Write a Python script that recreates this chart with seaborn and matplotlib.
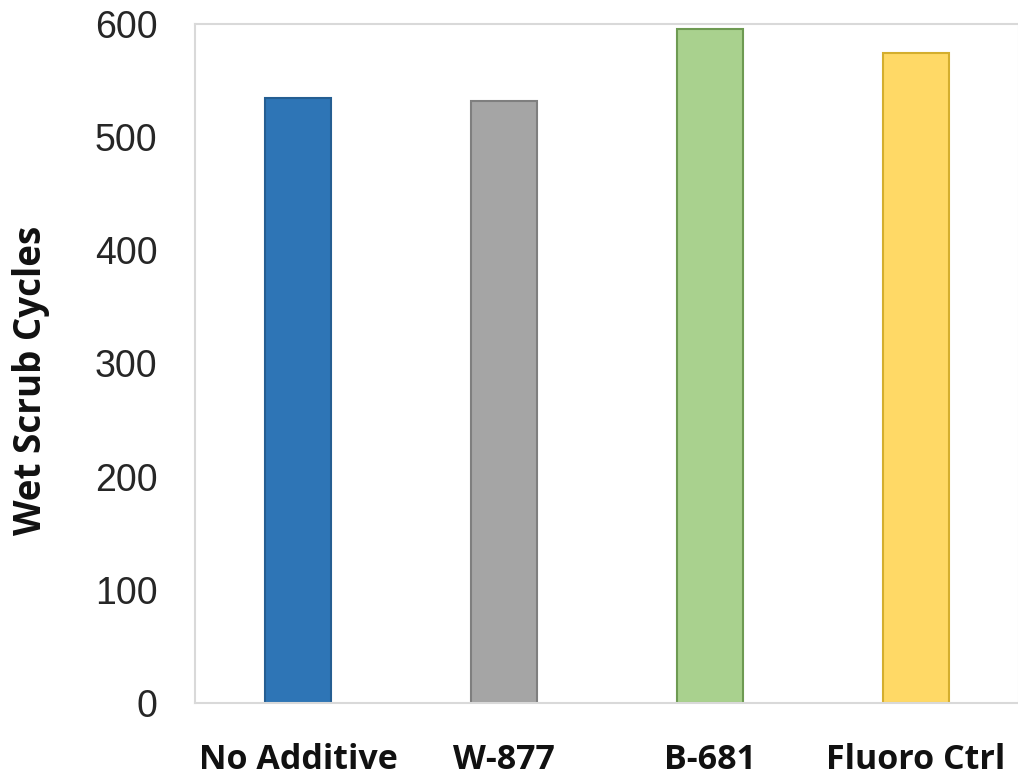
import matplotlib
matplotlib.use("Agg")
import matplotlib.pyplot as plt
import seaborn as sns
import pandas as pd

categories = ["No Additive", "W-877", "B-681", "Fluoro Ctrl"]
cycles = [535, 532, 596, 574]
fill_colors = ["#2E75B6", "#A5A5A5", "#A9D18E", "#FFD966"]
edge_colors = ["#255E92", "#7F7F7F", "#6E9A52", "#D4AE2E"]
y_ticks = [0, 100, 200, 300, 400, 500, 600]

sns.set_theme(style="white")
plt.rcParams["font.family"] = ["Liberation Sans", "DejaVu Sans"]

df = pd.DataFrame({"Additive": categories, "Cycles": cycles})

fig = plt.figure(figsize=(10.18, 7.77), dpi=100)
ax = fig.add_axes([195 / 1018, 1 - 703 / 777, 824 / 1018, 679 / 777])

sns.barplot(data=df, x="Additive", y="Cycles", hue="Additive",
            palette=fill_colors, width=0.32, legend=False, ax=ax, saturation=1)
for patch, ec in zip(ax.patches, edge_colors):
    patch.set_edgecolor(ec)
    patch.set_linewidth(1.5)

ax.set_xlim(-0.5, 3.5)
ax.set_ylim(0, 600)
ax.set_yticks(y_ticks)
ax.set_yticklabels([str(t) for t in y_ticks], fontsize=27, color="#262626")
ax.tick_params(axis="y", pad=27, length=0)
ax.tick_params(axis="x", pad=29, length=0)
for lbl in ax.get_xticklabels():
    lbl.set_fontfamily(["Open Sans", "DejaVu Sans"])
    lbl.set_fontweight("bold")
    lbl.set_fontsize(24.5)
    lbl.set_color("#111111")

ax.set_xlabel("")
ax.set_ylabel("Wet Scrub Cycles", fontsize=26.5, fontweight="bold",
              family=["Open Sans", "DejaVu Sans"], color="#111111")
ax.yaxis.set_label_coords(-0.176, 0.475)

for side, sp in ax.spines.items():
    sp.set_visible(True)
    sp.set_color("#D9D9D9")
    sp.set_linewidth(1.5)

fig.savefig("out.png", dpi=100)
